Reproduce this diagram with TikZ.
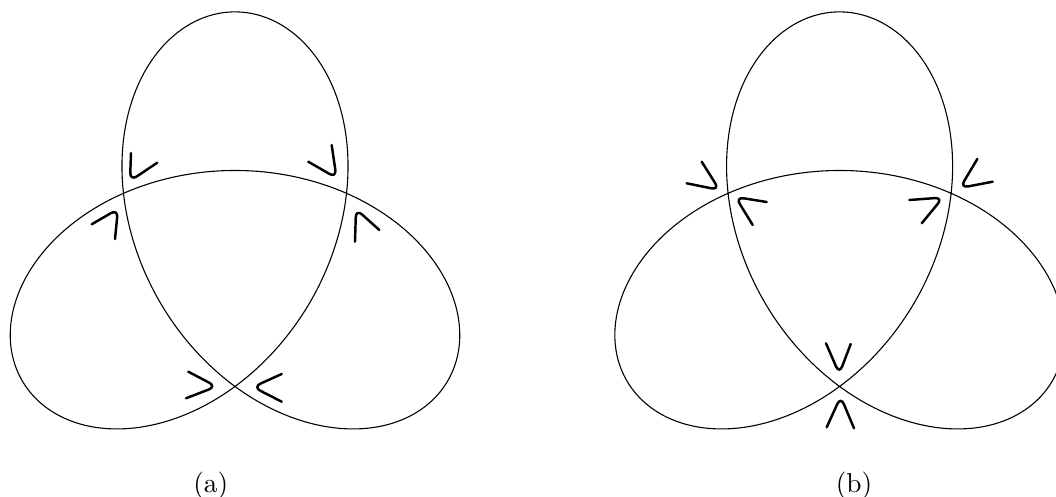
\documentclass[tikz,border=0pt]{standalone}
\tikzset{
knotline/.style={line width=0.4pt},
smoothmark/.style={line width=0.9pt,rounded corners=3pt,line cap=round},
trefoil/.style={knotline,smooth,samples=241,domain=0:360,variable=\t}
}

\begin{document}
\begin{tikzpicture}[x=0.366pt,y=-0.366pt]

\useasboundingbox (0,0) rectangle (1056,497);
\clip (0,0) rectangle (1056,497);

% (a)
\begin{scope}[shift={(235,257.7)},scale=79.3]
\draw[trefoil] plot ({sin(\t)+2.1*sin(2*\t)},{cos(\t)-2.1*cos(2*\t)});
\end{scope}

\coordinate (al) at (123,193);
\coordinate (ar) at (346.7,193);
\coordinate (ab) at (235,385);

\draw[smoothmark] (131,153) -- (130,181) -- (157.3,162.7);
\draw[smoothmark] (91.7,224.3) -- (118,209) -- (115,239);
\draw[smoothmark] (331.7,145) -- (336.5,178) -- (308.3,161.7);
\draw[smoothmark] (355,241.7) -- (356,209) -- (379.3,230);
\draw[smoothmark] (188.3,371.7) -- (216.5,386.5) -- (186,398.3);
\draw[smoothmark] (281.7,374) -- (253,387) -- (281.7,401.7);

\node[anchor=base] (capa) at (210.8,492) {(a)};

% (b)
\begin{scope}[shift={(839.6,257.7)},scale=79.3]
\draw[trefoil] plot ({sin(\t)+2.1*sin(2*\t)},{cos(\t)-2.1*cos(2*\t)});
\end{scope}

\coordinate (bl) at (728.3,192);
\coordinate (br) at (951.7,192);
\coordinate (bb) at (840,385);

\draw[smoothmark] (701.7,161.7) -- (719.5,190) -- (686.7,183.3);
\draw[smoothmark] (766.7,202) -- (735.5,197) -- (752.7,225);
\draw[smoothmark] (977.3,159) -- (960,188) -- (992.7,181.7);
\draw[smoothmark] (909.3,200) -- (943,197.5) -- (921.7,223.3);
\draw[smoothmark] (826,343.3) -- (839.3,374) -- (850.7,344);
\draw[smoothmark] (826.7,427.3) -- (840.7,396.5) -- (854,428.3);

\node[anchor=base] (capb) at (854,492) {(b)};

\end{tikzpicture}
\end{document}
